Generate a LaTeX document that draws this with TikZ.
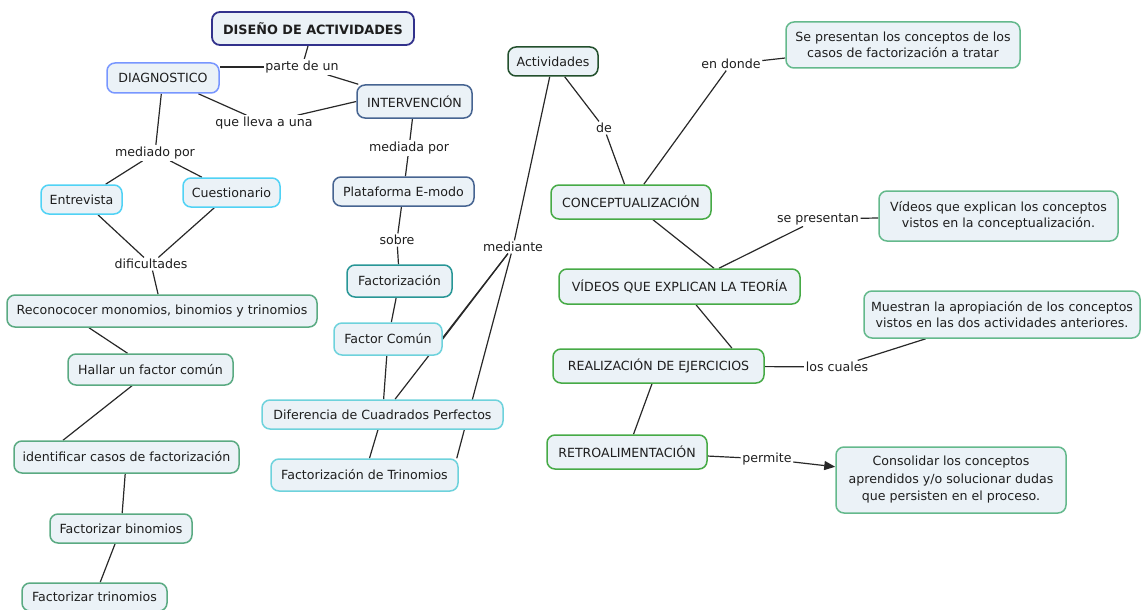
\documentclass[tikz,border=0pt]{standalone}
\usepackage{fontspec}
\setmainfont{DejaVu Sans}
\usetikzlibrary{backgrounds,arrows.meta,calc}
\definecolor{fillc}{RGB}{235,242,247}
\definecolor{txt}{RGB}{30,30,30}
\definecolor{linec}{RGB}{40,40,40}
\definecolor{cdis}{RGB}{50,50,140}
\definecolor{cdiag}{RGB}{120,150,255}
\definecolor{cint}{RGB}{70,100,145}
\definecolor{ccyan}{RGB}{80,210,245}
\definecolor{cteal}{RGB}{40,150,150}
\definecolor{cturq}{RGB}{110,210,220}
\definecolor{cleft}{RGB}{90,170,130}
\definecolor{cact}{RGB}{35,80,45}
\definecolor{cgreen}{RGB}{70,170,70}
\definecolor{cnote}{RGB}{100,185,140}
\tikzset{
  box/.style={draw, rounded corners=8pt, fill=fillc, line width=1.5pt, inner sep=0pt, align=center, text=txt},
  lbl/.style={fill=white, inner sep=1.5pt, text=txt},
  conn/.style={draw=linec, line width=1.2pt},
}
\begin{document}
\begin{tikzpicture}[x=1pt,y=-1pt, font=\fontsize{12.6}{16.5}\selectfont]
\useasboundingbox (0,0) rectangle (1141,610);
% concepts
\node[box, draw=cdis, line width=1.8pt, minimum width=202pt, minimum height=33pt, font=\fontsize{12.8}{15}\selectfont\bfseries] (dis) at (313,28.5) {DISEÑO DE ACTIVIDADES};
\node[box, draw=cdiag, minimum width=112pt, minimum height=30pt] (diag) at (163,78) {DIAGNOSTICO};
\node[box, draw=cint, minimum width=115pt, minimum height=33pt] (interv) at (414.5,101.5) {INTERVENCIÓN};
\node[box, draw=ccyan, minimum width=81pt, minimum height=29pt] (entrev) at (81.5,199.5) {Entrevista};
\node[box, draw=ccyan, minimum width=97pt, minimum height=29pt] (cuest) at (231.5,192.5) {Cuestionario};
\node[box, draw=cint, minimum width=141pt, minimum height=29pt] (plat) at (403.5,191.5) {Plataforma E-modo};
\node[box, draw=cteal, minimum width=105pt, minimum height=32pt] (fact) at (399.5,281) {Factorización};
\node[box, draw=cturq, minimum width=108pt, minimum height=32pt] (fcom) at (388,339) {Factor Común};
\node[box, draw=cturq, minimum width=241pt, minimum height=29pt] (dif) at (382.5,414.5) {Diferencia de Cuadrados Perfectos};
\node[box, draw=cturq, minimum width=187pt, minimum height=32pt] (trin) at (364.5,475) {Factorización de Trinomios};
\node[box, draw=cleft, minimum width=310pt, minimum height=32pt] (recon) at (162,311) {Reconococer monomios, binomios y trinomios};
\node[box, draw=cleft, minimum width=165pt, minimum height=31pt] (hallar) at (150.5,369.5) {Hallar un factor común};
\node[box, draw=cleft, minimum width=225pt, minimum height=32pt] (ident) at (126.5,457) {identificar casos de factorización};
\node[box, draw=cleft, minimum width=142pt, minimum height=29pt] (fbin) at (121,528.5) {Factorizar binomios};
\node[box, draw=cleft, minimum width=145pt, minimum height=28pt] (ftri) at (94.5,597) {Factorizar trinomios};
\node[box, draw=cact, minimum width=90pt, minimum height=29pt] (activ) at (553,61.5) {Actividades};
\node[box, draw=cnote, minimum width=234pt, minimum height=46pt] (sepres) at (903,45) {Se presentan los conceptos de los\\casos de factorización a tratar};
\node[box, draw=cgreen, minimum width=160pt, minimum height=34pt] (concept) at (631,202) {CONCEPTUALIZACIÓN};
\node[box, draw=cnote, minimum width=239pt, minimum height=50pt] (videos) at (998.5,216) {Vídeos que explican los conceptos\\vistos en la conceptualización.};
\node[box, draw=cgreen, minimum width=241pt, minimum height=35pt] (vteoria) at (679.5,286.5) {VÍDEOS QUE EXPLICAN LA TEORÍA};
\node[box, draw=cnote, minimum width=276pt, minimum height=47pt] (muestran) at (1002,314.5) {Muestran la apropiación de los conceptos\\vistos en las dos actividades anteriores.};
\node[box, draw=cgreen, minimum width=211pt, minimum height=34pt] (realiz) at (658.5,366) {REALIZACIÓN DE EJERCICIOS};
\node[box, draw=cgreen, minimum width=160pt, minimum height=34pt] (retro) at (627,452) {RETROALIMENTACIÓN};
\node[box, draw=cnote, minimum width=230pt, minimum height=66pt, font=\fontsize{12.6}{17.5}\selectfont] (consol) at (951,480) {Consolidar los conceptos\\aprendidos y/o solucionar dudas\\que persisten en el proceso.};
% linking phrases
\node[lbl] (parte) at (302,67) {parte de un};
\node[lbl] (lleva) at (264,123) {que lleva a una};
\node[lbl] (medo) at (155,153) {mediado por};
\node[lbl] (meda) at (409,148) {mediada por};
\node[lbl] (sobre) at (397,240) {sobre};
\node[lbl] (dific) at (151,264) {dificultades};
\node[lbl] (median) at (513,247) {mediante};
\node[lbl] (de) at (604,128) {de};
\node[lbl] (endonde) at (731,64) {en donde};
\node[lbl] (sepl) at (818,219) {se presentan};
\node[lbl] (cuales) at (837,367) {los cuales};
\node[lbl] (permite) at (767,459) {permite};
% connectors
\begin{pgfonlayer}{background}
\draw[conn] (dis) -- (parte);
\draw[conn] (diag.east |- parte) -- (parte);
\draw[conn] (parte) -- (interv);
\draw[conn] (diag) -- (lleva);
\draw[conn] (lleva) -- (interv.west);
\draw[conn] (diag) -- (medo);
\draw[conn] (medo) -- (entrev);
\draw[conn] (medo) -- (cuest);
\draw[conn] (entrev) -- (dific);
\draw[conn] (cuest) -- (dific);
\draw[conn] (dific) -- (recon);
\draw[conn] ([xshift=-73pt]recon.south) -- ([xshift=-23pt]hallar.north);
\draw[conn] ([xshift=-18.5pt]hallar.south) -- ([xshift=-63.5pt]ident.north);
\draw[conn] (ident) -- (fbin);
\draw[conn] (fbin) -- (ftri);
\draw[conn] (interv) -- (meda);
\draw[conn] (meda) -- (plat);
\draw[conn] (plat) -- (sobre);
\draw[conn] (sobre) -- (fact);
\draw[conn] (fact) -- (fcom);
\draw[conn] (fcom) -- (dif);
\draw[conn] (dif) -- (trin);
\draw[conn] (activ) -- (median);
\draw[conn] (median) -- (fcom.east);
\draw[conn] (median) -- ([xshift=12.5pt]dif.north);
\draw[conn] (median) -- ([xshift=-2pt]trin.north east);
\draw[conn] (activ) -- (de);
\draw[conn] (de) -- (concept);
\draw[conn] (endonde) -- (concept);
\draw[conn] (endonde) -- (sepres);
\draw[conn] ([xshift=22pt]concept.south) -- ([xshift=34.5pt]vteoria.north);
\draw[conn] (sepl) -- ([xshift=39.5pt]vteoria.north);
\draw[conn] (sepl) -- (videos);
\draw[conn] ([xshift=16.5pt]vteoria.south) -- ([xshift=73.5pt]realiz.north);
\draw[conn] (realiz) -- (retro);
\draw[conn] (realiz) -- (cuales);
\draw[conn] (cuales) -- (muestran);
\draw[conn] (retro) -- (permite);
\draw[conn, -{Triangle[length=11pt,width=9pt]}] (permite) -- (consol);
\end{pgfonlayer}
\end{tikzpicture}
\end{document}
